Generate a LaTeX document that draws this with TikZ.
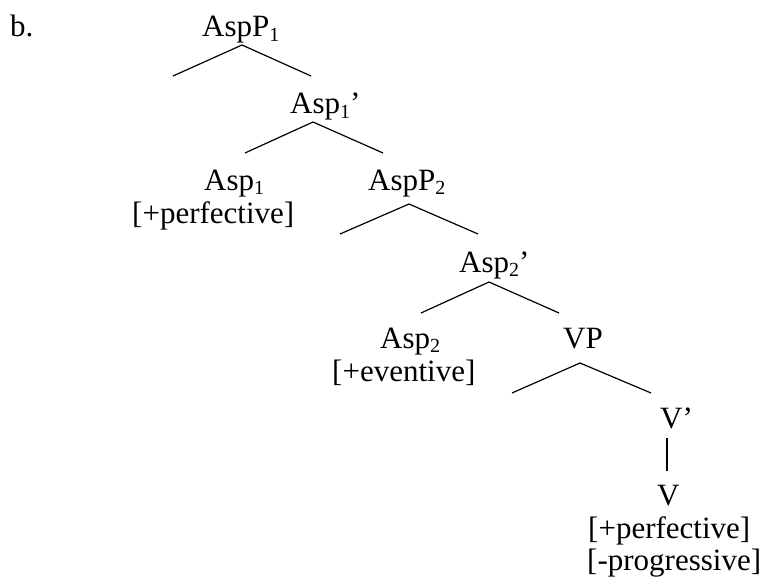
\documentclass[tikz,border=0pt]{standalone}
\usepackage{fontspec}
\setmainfont{Liberation Serif}
\newcommand{\sbs}[1]{\raisebox{-4.5pt}{\fontsize{20}{20}\selectfont #1}}
\begin{document}
\begin{tikzpicture}[x=1pt,y=-1pt,
  lab/.style={anchor=base west,inner sep=0pt,font=\fontsize{31}{33}\selectfont},
  branch/.style={line width=1.2pt}]
\useasboundingbox (0,0) rectangle (765,588);

% labels
\node[lab] (ex)    at (10,37)  {b.};
\node[lab] (aspP1) at (202,37) {AspP\sbs{1}};
\node[lab] (asp1b) at (290,114) {Asp\sbs{1}’};
\node[lab] (asp1)  at (204,190) {Asp\sbs{1}};
\node[lab] (perf1) at (132,223) {[+perfective]};
\node[lab] (aspP2) at (368,190) {AspP\sbs{2}};
\node[lab] (asp2b) at (459,272) {Asp\sbs{2}’};
\node[lab] (asp2)  at (380,348) {Asp\sbs{2}};
\node[lab] (event) at (332,381) {[+eventive]};
\node[lab] (vp)    at (563,348) {VP};
\node[lab] (vbar)  at (660,428) {V’};
\node[lab] (v)     at (657,505) {V};
\node[lab] (perf2) at (588,538) {[+perfective]};
\node[lab] (prog)  at (587,570) {[-progressive]};

% branch points and branch ends
\coordinate (aspP1-t) at (242,45);
\coordinate (spec1)   at (173,76);
\coordinate (asp1b-u) at (311,76);
\coordinate (asp1b-t) at (313,122);
\coordinate (asp1-u)  at (245,153);
\coordinate (aspP2-u) at (383,153);
\coordinate (aspP2-t) at (409,204);
\coordinate (spec2)   at (340,234);
\coordinate (asp2b-u) at (478,234);
\coordinate (asp2b-t) at (489,282);
\coordinate (asp2-u)  at (421,313);
\coordinate (vp-u)    at (559,313);
\coordinate (vp-t)    at (580,363);
\coordinate (specv)   at (512,393);
\coordinate (vbar-u)  at (651,393);
\coordinate (vbar-t)  at (667,438);
\coordinate (v-u)     at (667,471);

% branches
\draw[branch] (spec1) -- (aspP1-t) -- (asp1b-u);
\draw[branch] (asp1-u) -- (asp1b-t) -- (aspP2-u);
\draw[branch] (spec2) -- (aspP2-t) -- (asp2b-u);
\draw[branch] (asp2-u) -- (asp2b-t) -- (vp-u);
\draw[branch] (specv) -- (vp-t) -- (vbar-u);
\draw[branch] (vbar-t) -- (v-u);
\end{tikzpicture}
\end{document}
